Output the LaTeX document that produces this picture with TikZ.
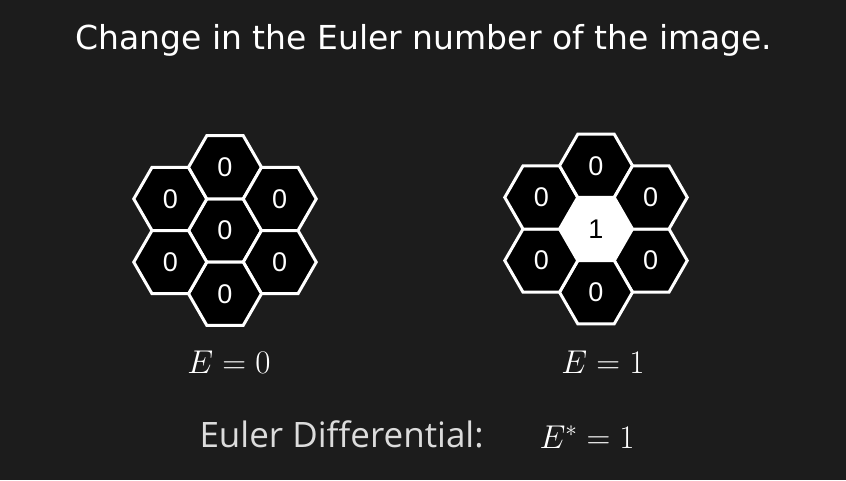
\RequirePackage{fix-cm}
\documentclass[tikz,border=0pt]{standalone}
\usepackage{fontspec}
\usetikzlibrary{shapes.geometric, positioning, calc}
\newfontfamily\titlefont{DejaVu Sans}
\newfontfamily\labelfont{Open Sans}
\newfontfamily\digitfont{Liberation Sans}
\definecolor{bgdark}{HTML}{1C1C1C}
\definecolor{softwhite}{HTML}{DCDCDC}
\tikzstyle{cell} = [regular polygon, regular polygon sides=6, minimum size=73pt, inner sep=0pt, draw=white, line width=3pt, fill=black, text=white, font=\digitfont\fontsize{27}{27}\selectfont]
\tikzstyle{cellon} = [cell, fill=white, text=black]
\tikzstyle{eq} = [text=white, anchor=base, font=\fontsize{33}{33}\selectfont]

\begin{document}
\begin{tikzpicture}[x=1pt,y=-1pt]
    \fill[bgdark] (0,0) rectangle (846,480);
    \useasboundingbox (0,0) rectangle (846,480);

    \node[text=white, anchor=base, font=\titlefont\fontsize{33}{33}\selectfont] (title) at (424,49) {Change in the Euler number of the image.};

    % before: all cells 0
    \node[cell] (before) at (225,230.5) {0};
    \foreach \a in {30,90,150,210,270,330}
        \node[cell] (before\a) at ($(before)+(\a:63.2)$) {0};

    % after: middle cell switched on
    \node[cellon] (after) at (596,229) {1};
    \foreach \a in {30,90,150,210,270,330}
        \node[cell] (after\a) at ($(after)+(\a:63.2)$) {0};

    \node[eq] (ebefore) at (229,373) {$E=0$};
    \node[eq] (eafter) at (603,373) {$E=1$};

    \node[text=softwhite, anchor=base west, font=\labelfont\fontsize{35}{35}\selectfont] (difflabel) at (196,447) {Euler Differential:};
    \node[eq, anchor=base west] (diffvalue) at (536,448) {$E^*=1$};
\end{tikzpicture}
\end{document}
